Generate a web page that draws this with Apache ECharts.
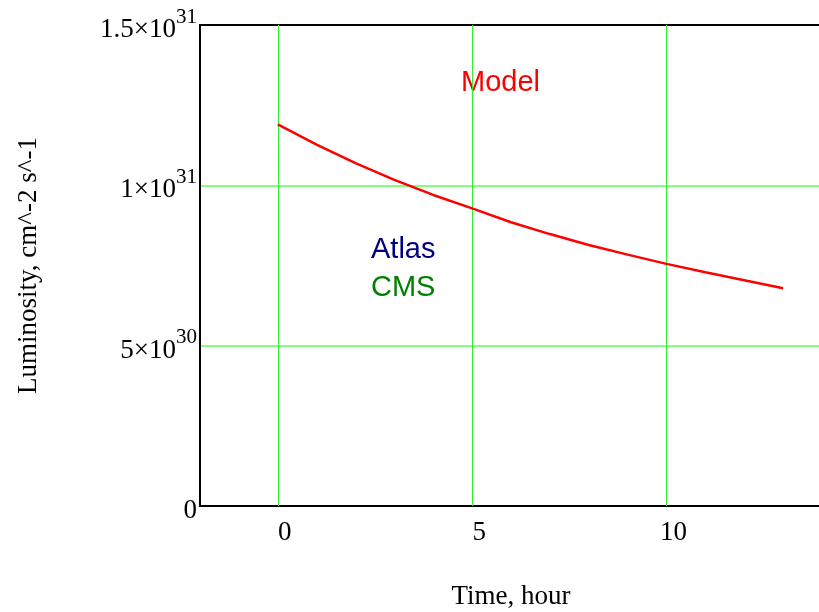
<!DOCTYPE html>
<html>
<head>
<meta charset="utf-8">
<script src="https://cdn.jsdelivr.net/npm/echarts@6/dist/echarts.min.js"></script>
<style>html,body{margin:0;padding:0;background:#fff;}#chart{width:819px;height:612px;}</style>
</head>
<body>
<div id="chart"></div>
<script>
// Time, hours
const timeHours = [0, 1, 2, 3, 4, 5, 6, 7, 8, 9, 10, 11, 12, 13];
// Model luminosity, in units of 1e30 cm^-2 s^-1
const modelLumi = [11.90, 11.27, 10.69, 10.17, 9.70, 9.28, 8.85, 8.48, 8.14, 7.84, 7.55, 7.29, 7.04, 6.79];
// x tick values
const xTicks = [0, 5, 10];
// y ticks (units of 1e30) and their labels
const yTicks = [0, 5, 10, 15];
const yMantissa = ['0', '5', '1', '1.5'];
const yExponent = ['', '30', '31', '31'];
// legend texts
const legendTexts = ['Model', 'Atlas', 'CMS'];

const serif = 'Liberation Serif, Times New Roman, serif';
const sans = 'Liberation Sans, Arial, sans-serif';

const chart = echarts.init(document.getElementById('chart'), null, {renderer: 'canvas'});
chart.setOption({
  animation: false,
  backgroundColor: '#fff',
  grid: {left: 200, top: 25, right: -3, bottom: 106, outerBoundsMode: 'none', containLabel: false,
         show: true, borderColor: '#000', borderWidth: 2, backgroundColor: 'transparent'},
  xAxis: {
    type: 'value', min: -2, max: 14,
    axisLine: {show: true, onZero: false, lineStyle: {color: '#000', width: 2}},
    axisTick: {show: false, customValues: xTicks},
    axisLabel: {customValues: xTicks, fontFamily: serif, fontSize: 27, color: '#000', margin: 13, padding: [0, 0, 0, 14]},
    splitLine: {show: false},
    name: 'Time, hour', nameLocation: 'middle', nameGap: 77,
    nameTextStyle: {fontFamily: serif, fontSize: 27, color: '#000'}
  },
  yAxis: {
    type: 'value', min: 0, max: 15, interval: 5,
    axisLine: {show: true, onZero: false, lineStyle: {color: '#000', width: 2}},
    axisTick: {show: false},
    axisLabel: {
      margin: 3, color: '#000',
      formatter: function (v) {
        const i = yTicks.indexOf(v);
        if (i < 0) return '';
        if (!yExponent[i]) return '{z|' + yMantissa[i] + '}';
        return '{b|' + yMantissa[i] + '×10}{s|' + yExponent[i] + '}';
      },
      rich: {
        z: {fontFamily: serif, fontSize: 27, color: '#000', padding: [9, 0, 0, 0]},
        b: {fontFamily: serif, fontSize: 27, color: '#000', verticalAlign: 'bottom'},
        s: {fontFamily: serif, fontSize: 21, color: '#000', verticalAlign: 'bottom', padding: [0, 0, 16, 0]}
      }
    },
    splitLine: {show: true, showMinLine: false, showMaxLine: false, lineStyle: {color: '#80ff80', width: 2}},
    name: 'Luminosity, cm^-2 s^-1', nameLocation: 'middle', nameGap: 158,
    nameTextStyle: {fontFamily: serif, fontSize: 27, color: '#000'}
  },
  series: [{
    type: 'line',
    data: timeHours.map((t, i) => [t, modelLumi[i]]),
    showSymbol: false, symbol: 'none',
    lineStyle: {color: '#ff0000', width: 2.5},
    z: 5,
    markLine: {
      silent: true, symbol: 'none', label: {show: false},
      lineStyle: {color: '#33ee33', width: 1, type: 'solid'},
      data: xTicks.map(v => ({xAxis: v}))
    }
  }],
  graphic: [
    {type: 'text', left: 461, top: 68, style: {text: legendTexts[0], fill: '#ff0000', font: '29px ' + sans}},
    {type: 'text', left: 371, top: 235, style: {text: legendTexts[1], fill: '#000080', font: '29px ' + sans}},
    {type: 'text', left: 371, top: 273, style: {text: legendTexts[2], fill: '#008000', font: '29px ' + sans}}
  ]
});
</script>
</body>
</html>
